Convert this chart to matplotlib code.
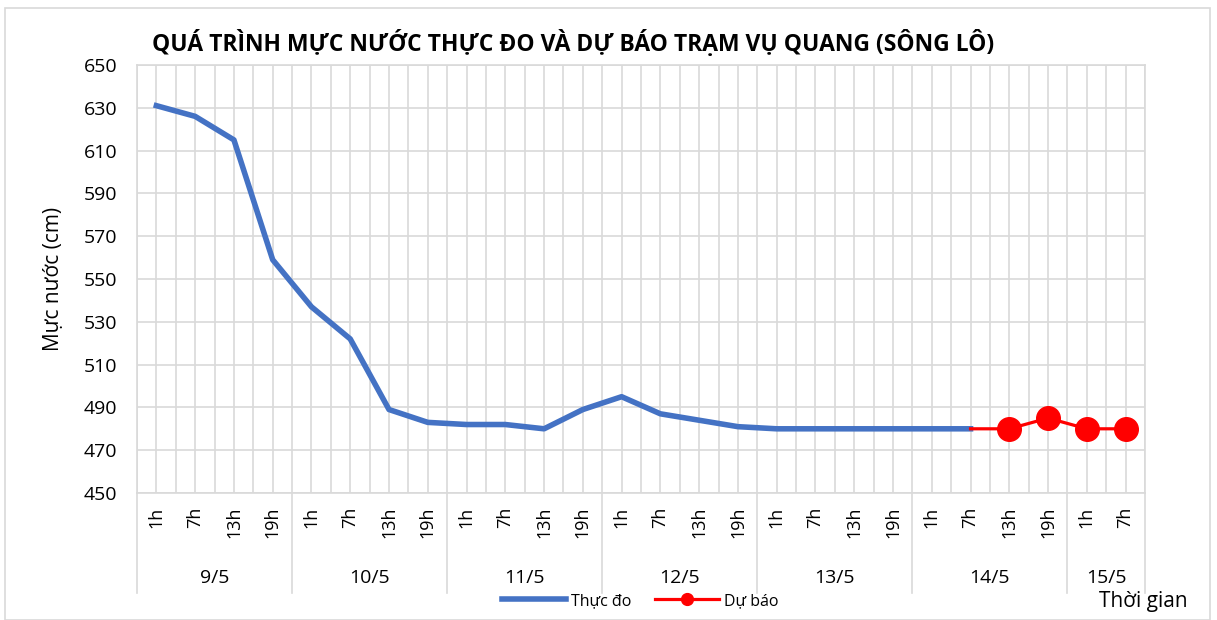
import matplotlib
matplotlib.use('Agg')
import matplotlib.pyplot as plt
from matplotlib.patches import Rectangle
import matplotlib.transforms as mtransforms

plt.rcParams['font.family'] = ['Open Sans', 'DejaVu Sans']

# categories: hours grouped by day
days = ['9/5', '10/5', '11/5', '12/5', '13/5', '14/5', '15/5']
day_hours = [['1h', '7h', '13h', '19h']] * 6 + [['1h', '7h']]
hour_labels = [h for hs in day_hours for h in hs]

# observed (Thực đo), 9/5 1h .. 14/5 7h
observed = [631, 626, 615, 559, 537, 522, 489, 483,
            482, 482, 480, 489, 495, 487, 484, 481,
            480, 480, 480, 480, 480, 480]
# forecast (Dự báo), 14/5 7h .. 15/5 7h
forecast = [480, 480, 485, 480, 480]
forecast_start = 21

grid_col = '#d9d9d9'

fig = plt.figure(figsize=(12.17, 6.2), dpi=100)
fig.patches.append(Rectangle((5 / 1217, 0), 1205 / 1217, 1 - 8 / 620,
                             transform=fig.transFigure, fill=False,
                             edgecolor='#d9d9d9', linewidth=1.2))

ax = fig.add_axes([137 / 1217, 1 - 493 / 620, 1008 / 1217, 428 / 620])

n = len(hour_labels)
x_obs = list(range(len(observed)))
x_fc = list(range(forecast_start, forecast_start + len(forecast)))

ax.plot(x_obs, observed, color='#4472c4', linewidth=4, label='Thực đo',
        solid_joinstyle='round', zorder=3)
ax.plot(x_fc, forecast, color='#ff0000', linewidth=2.3, marker='o',
        markersize=17, markevery=list(range(1, len(forecast))),
        label='Dự báo', zorder=4)

ax.set_xlim(-0.5, n - 0.5)
ax.set_ylim(450, 650)
ax.set_yticks(range(450, 651, 20))
ax.set_xticks(range(n))
ax.set_xticklabels(hour_labels, rotation=90, fontsize=13)
ax.set_xticks([i - 0.5 for i in range(n + 1)], minor=True)
ax.tick_params(axis='x', which='both', length=0, pad=10)
ax.tick_params(axis='y', length=0, labelsize=14, pad=14)

ax.grid(True, which='major', color=grid_col, linewidth=1.2, zorder=0)
ax.grid(True, which='minor', axis='x', color=grid_col, linewidth=1.2, zorder=0)
for s in ax.spines.values():
    s.set_color(grid_col)
    s.set_linewidth(1.2)

# day group labels and separators
trans = mtransforms.blended_transform_factory(ax.transData, ax.transAxes)
pos = 0
bounds = [-0.5]
for d, hs in zip(days, day_hours):
    ax.text(pos + (len(hs) - 1) / 2, -0.199, d, transform=trans,
            ha='center', va='center', fontsize=14)
    pos += len(hs)
    bounds.append(pos - 0.5)
for b in bounds:
    ax.plot([b, b], [0, -0.234], transform=trans, color=grid_col,
            linewidth=1.2, clip_on=False)

ax.set_ylabel('Mực nước (cm)', fontsize=15, labelpad=14)

fig.text(573 / 1217, 1 - 43 / 620,
         'QUÁ TRÌNH MỰC NƯỚC THỰC ĐO VÀ DỰ BÁO TRẠM VỤ QUANG (SÔNG LÔ)',
         ha='center', va='center', fontsize=16.5, fontweight='bold')
fig.text(1143 / 1217, 1 - 602 / 620, 'Thời gian', ha='center', va='center',
         fontsize=15)

fig.legend(loc='center', bbox_to_anchor=(640 / 1217, 1 - 601 / 620),
           ncol=2, frameon=False, fontsize=11.5, handlelength=4,
           columnspacing=1.5, markerscale=0.5, handletextpad=0.3)

fig.savefig('out.png', dpi=100)
